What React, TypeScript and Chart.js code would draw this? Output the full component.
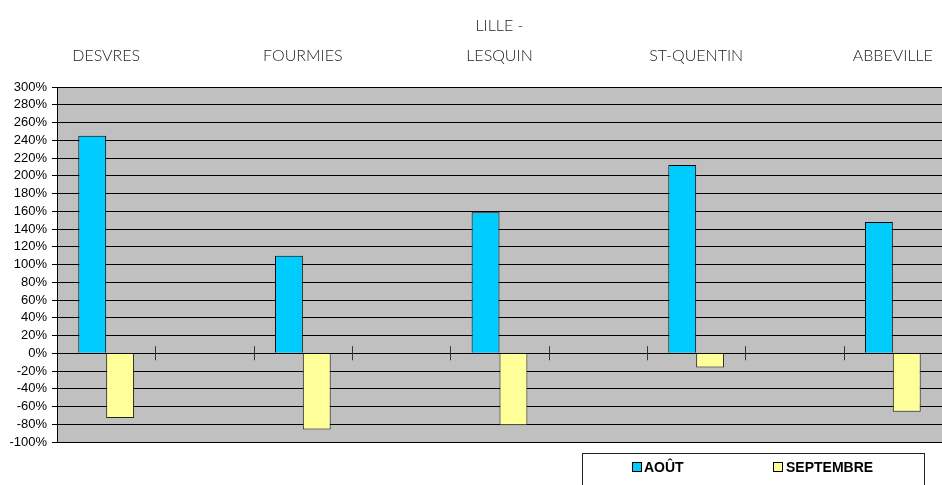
import React, { useEffect, useRef } from "react";
import { Chart, registerables } from "chart.js";

Chart.register(...registerables);

const categories: (string | string[])[] = [
  "DESVRES",
  "",
  "FOURMIES",
  "",
  ["LILLE -", "LESQUIN"],
  "",
  "ST-QUENTIN",
  "",
  "ABBEVILLE",
];
const aout: (number | null)[] = [245, null, 110, null, 159, null, 212, null, 148];
const septembre: (number | null)[] = [-73, null, -86, null, -81, null, -16, null, -66];
const seriesNames = ["AOÛT", "SEPTEMBRE"];
const yMin = -100;
const yMax = 300;
const yStep = 20;

const bgPlugin = {
  id: "plotBg",
  beforeDraw(chart: any) {
    const { ctx, chartArea } = chart;
    ctx.save();
    ctx.fillStyle = "#C0C0C0";
    ctx.fillRect(chartArea.left, chartArea.top, chartArea.right - chartArea.left, chartArea.bottom - chartArea.top);
    ctx.restore();
  },
};

const zeroTicksPlugin = {
  id: "zeroTicks",
  afterDatasetsDraw(chart: any) {
    const { ctx } = chart;
    const x = chart.scales.x;
    const y = chart.scales.y;
    const y0 = y.getPixelForValue(0);
    ctx.save();
    ctx.strokeStyle = "#333";
    ctx.lineWidth = 1;
    for (let i = 1; i < categories.length; i++) {
      const px = Math.round((x.getPixelForValue(i - 1) + x.getPixelForValue(i)) / 2) + 0.5;
      ctx.beginPath();
      ctx.moveTo(px, y0 - 7);
      ctx.lineTo(px, y0 + 7);
      ctx.stroke();
    }
    ctx.restore();
  },
};

const legendPlugin = {
  id: "boxLegend",
  afterDraw(chart: any) {
    const { ctx } = chart;
    const ds = chart.data.datasets;
    ctx.save();
    ctx.fillStyle = "#fff";
    ctx.fillRect(582, 453, 342, 60);
    ctx.strokeStyle = "#222";
    ctx.lineWidth = 1;
    ctx.strokeRect(582.5, 453.5, 342, 60);
    const items = [
      { sx: 632, tx: 644 },
      { sx: 773, tx: 786 },
    ];
    ctx.font = "bold 14px 'Liberation Sans', Arial, sans-serif";
    ctx.textBaseline = "middle";
    items.forEach((it, i) => {
      ctx.fillStyle = ds[i].backgroundColor;
      ctx.fillRect(it.sx, 462, 10, 10);
      ctx.strokeStyle = "#000";
      ctx.strokeRect(it.sx + 0.5, 462.5, 9, 9);
      ctx.fillStyle = "#000";
      ctx.fillText(ds[i].label, it.tx, 468);
    });
    ctx.restore();
  },
};

export default function App() {
  const ref = useRef<HTMLCanvasElement | null>(null);
  useEffect(() => {
    if (!ref.current) return;
    const chart = new Chart(ref.current, {
      type: "bar",
      data: {
        labels: categories,
        datasets: [
          {
            label: seriesNames[0],
            data: aout,
            backgroundColor: "#00CCFF",
            borderColor: "#000",
            borderWidth: 1,
            categoryPercentage: 0.567,
            barPercentage: 1,
          },
          {
            label: seriesNames[1],
            data: septembre,
            backgroundColor: "#FFFF99",
            borderColor: "#222",
            borderWidth: 1,
            categoryPercentage: 0.567,
            barPercentage: 1,
          },
        ],
      },
      options: {
        animation: false,
        responsive: true,
        maintainAspectRatio: false,
        layout: { padding: { left: 0, right: 0, top: 0, bottom: 43 } },
        plugins: { legend: { display: false }, tooltip: { enabled: false } },
        scales: {
          x: {
            position: "top",
            grid: { display: false, drawTicks: false },
            border: { display: false },
            ticks: {
              autoSkip: false,
              maxRotation: 0,
              padding: 16,
              color: "#222",
              font: { family: "Lato, 'DejaVu Sans', sans-serif", size: 16, weight: "300", lineHeight: "30px" },
            },
            afterFit(scale: any) {
              scale.height = 87;
              scale.paddingLeft = 0;
              scale.paddingRight = 0;
            },
          },
          y: {
            min: yMin,
            max: yMax,
            grid: { color: "#000", lineWidth: 1, tickLength: 5 },
            border: { display: true, color: "#000" },
            ticks: {
              stepSize: yStep,
              autoSkip: false,
              padding: 5,
              color: "#000",
              font: { family: "'Liberation Sans', Arial, sans-serif", size: 13 },
              callback: (v: any) => v + "%",
            },
            afterFit(scale: any) {
              scale.width = 57;
              scale.paddingTop = 0;
              scale.paddingBottom = 0;
            },
          },
        },
      },
      plugins: [bgPlugin, zeroTicksPlugin, legendPlugin],
    });
    return () => chart.destroy();
  }, []);
  return (
    <div style={{ position: "fixed", left: 0, top: 0, width: 942, height: 485, background: "#fff" }}>
      <canvas ref={ref} />
    </div>
  );
}
